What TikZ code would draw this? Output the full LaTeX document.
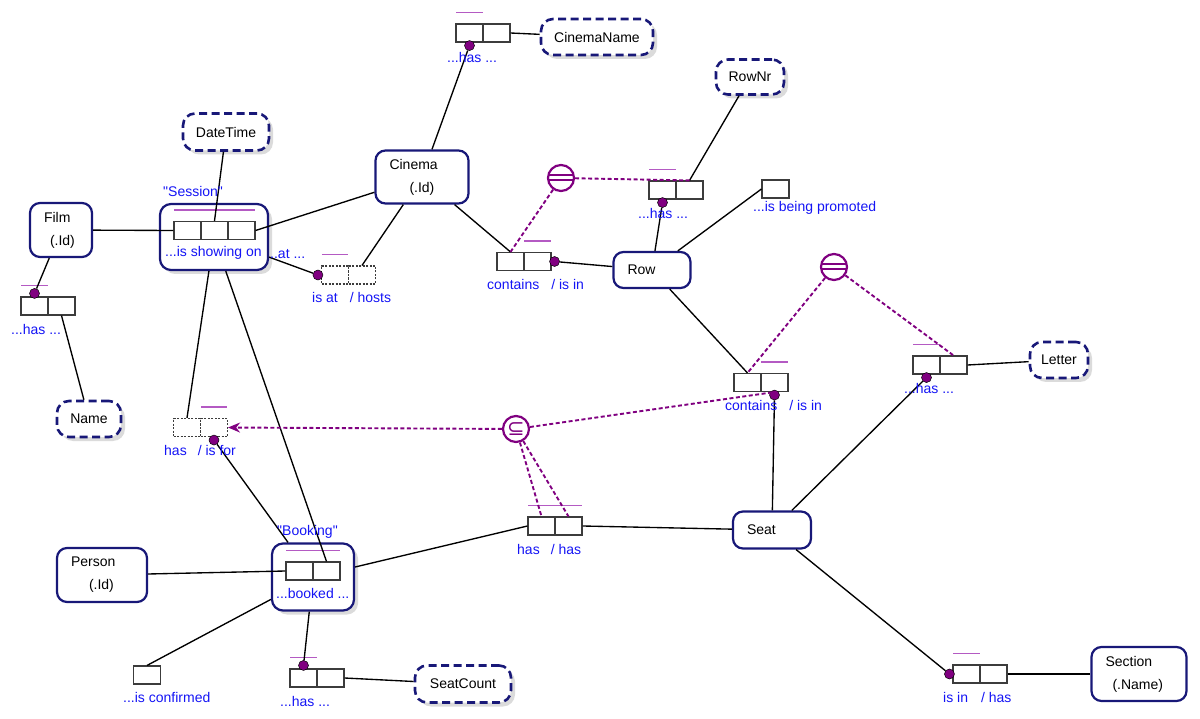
\documentclass[tikz,border=0pt]{standalone}
\usepackage{fontspec}
\setmainfont{Liberation Sans}
\newfontfamily\symfont{DejaVu Sans}
\usepackage{xcolor}
\definecolor{ormnavy}{RGB}{24,24,120}
\definecolor{ormpurple}{RGB}{128,0,128}
\definecolor{ormlilac}{RGB}{180,90,195}
\definecolor{ormblue}{RGB}{20,20,245}
\definecolor{rolegray}{RGB}{60,60,60}
\usepackage{tikz}
\usetikzlibrary{arrows.meta, positioning, calc, shadows}

\begin{document}
\begin{tikzpicture}[x=1pt, y=-1pt, >=Stealth,
  font=\fontsize{14}{16}\selectfont,
  etype/.style={
    rectangle, rounded corners=10pt,
    draw=ormnavy, line width=2.2pt, fill=white,
    align=left, inner xsep=14pt, inner ysep=0pt,
  },
  vtype/.style={
    rectangle, rounded corners=12pt,
    draw=ormnavy, line width=2.6pt, dash pattern=on 8pt off 4.5pt, fill=white,
    inner sep=0pt,
    drop shadow={shadow xshift=4pt, shadow yshift=-4pt, fill=black!14, opacity=1},
  },
  otype/.style={
    rectangle, rounded corners=11pt,
    draw=ormnavy, line width=2.2pt, fill=white, inner sep=0pt,
    drop shadow={shadow xshift=4pt, shadow yshift=-4pt, fill=black!14, opacity=1},
  },
  role/.style={
    rectangle, draw=rolegray, line width=1.1pt, fill=white,
    minimum width=27pt, minimum height=18pt, inner sep=0pt,
  },
  drole/.style={role, dash pattern=on 2pt off 1.5pt},
  mand/.style={
    circle, fill=ormpurple, draw=black, line width=0.5pt,
    minimum size=10pt, inner sep=0pt,
  },
  ubar/.style={draw=ormlilac, line width=1.3pt},
  link/.style={draw=black, line width=1.35pt},
  clink/.style={draw=ormpurple, line width=1.9pt, dash pattern=on 4pt off 2.5pt},
  ccirc/.style={
    circle, draw=ormpurple, line width=2.2pt, fill=white,
    minimum size=26pt, inner sep=0pt, text=ormpurple,
  },
  lbl/.style={anchor=west, text=ormblue, inner sep=0pt},
]
\useasboundingbox (0,0) rectangle (1200,719);

% --- Objectified fact types ---
\node[otype, minimum width=108pt, minimum height=66pt] (ses) at (214,237) {};
\node[otype, minimum width=82pt, minimum height=67pt] (bkg) at (313,577) {};

% --- Entity types ---
\node[etype, text width=34pt, minimum height=54pt] (film) at (61,230) {Film\\[7pt]\hspace*{6pt}(.Id)};
\node[etype, text width=65pt, minimum height=53pt] (cin) at (422,177) {Cinema\\[7pt]\hspace*{20pt}(.Id)};
\node[etype, text width=49pt, minimum height=36pt] (row) at (652,270) {Row};
\node[etype, text width=50pt, minimum height=37pt] (seat) at (772,530) {Seat};
\node[etype, text width=62pt, minimum height=54pt] (per) at (102,575) {Person\\[7pt]\hspace*{18pt}(.Id)};
\node[etype, text width=67pt, minimum height=54pt] (sec) at (1139,674) {Section\\[7pt]\hspace*{7pt}(.Name)};

% --- Value types ---
\node[vtype, minimum width=112pt, minimum height=36pt] (cname) at (597,37) {CinemaName};
\node[vtype, minimum width=86pt, minimum height=37pt] (dt) at (226,132) {DateTime};
\node[vtype, minimum width=68pt, minimum height=35pt] (rownr) at (750,77) {RowNr};
\node[vtype, minimum width=64pt, minimum height=36pt] (nm) at (89,419) {Name};
\node[vtype, minimum width=58pt, minimum height=36pt] (let) at (1059,360) {Letter};
\node[vtype, minimum width=96pt, minimum height=37pt] (scnt) at (463,684) {SeatCount};

% --- Role boxes ---
\node[role] (cn1) at (469.5,33) {};
\node[role] (cn2) at (496.5,33) {};
\node[role] (ss1) at (187.5,230.5) {};
\node[role] (ss2) at (214.5,230.5) {};
\node[role] (ss3) at (241.5,230.5) {};
\node[drole] (at1) at (335,275) {};
\node[drole] (at2) at (362,275) {};
\node[role] (fn1) at (34.5,306) {};
\node[role] (fn2) at (61.5,306) {};
\node[drole] (hf1) at (187,427.5) {};
\node[drole] (hf2) at (214,427.5) {};
\node[role] (rc1) at (510.5,261.5) {};
\node[role] (rc2) at (537.5,261.5) {};
\node[role] (rn1) at (662.5,190) {};
\node[role] (rn2) at (689.5,190) {};
\node[role] (pr) at (775.5,189) {};
\node[role] (sc1) at (747.5,382.5) {};
\node[role] (sc2) at (774.5,382.5) {};
\node[role] (lt1) at (926.5,365) {};
\node[role] (lt2) at (953.5,365) {};
\node[role] (bk1) at (299.5,571) {};
\node[role] (bk2) at (326.5,571) {};
\node[role] (bs1) at (541.5,526) {};
\node[role] (bs2) at (568.5,526) {};
\node[role] (cf) at (147,675) {};
\node[role] (sk1) at (303.5,678) {};
\node[role] (sk2) at (330.5,678) {};
\node[role] (sx1) at (966.5,674) {};
\node[role] (sx2) at (993.5,674) {};

% --- Uniqueness bars ---
\draw[ubar] ($(cn1.north west)+(1,-11)$) -- ($(cn1.north east)+(-1,-11)$);
\draw[ubar] ($(ss1.north west)+(1,-11)$) -- ($(ss3.north east)+(-1,-11)$);
\draw[ubar] ($(at1.north west)+(1,-11)$) -- ($(at1.north east)+(-1,-11)$);
\draw[ubar] ($(fn1.north west)+(1,-11)$) -- ($(fn1.north east)+(-1,-11)$);
\draw[ubar] ($(hf2.north west)+(1,-11)$) -- ($(hf2.north east)+(-1,-11)$);
\draw[ubar] ($(rc2.north west)+(1,-11)$) -- ($(rc2.north east)+(-1,-11)$);
\draw[ubar] ($(rn1.north west)+(1,-11)$) -- ($(rn1.north east)+(-1,-11)$);
\draw[ubar] ($(sc2.north west)+(1,-11)$) -- ($(sc2.north east)+(-1,-11)$);
\draw[ubar] ($(lt1.north west)+(1,-11)$) -- ($(lt1.north east)+(-1,-11)$);
\draw[ubar] ($(bk1.north west)+(1,-11)$) -- ($(bk2.north east)+(-1,-11)$);
\draw[ubar] ($(bs1.north west)+(1,-11)$) -- ($(bs2.north east)+(-1,-11)$);
\draw[ubar] ($(sk1.north west)+(1,-11)$) -- ($(sk1.north east)+(-1,-11)$);
\draw[ubar] ($(sx1.north west)+(1,-11)$) -- ($(sx1.north east)+(-1,-11)$);

% --- Mandatory dots ---
\node[mand] (mcn) at ([yshift=-3pt]cn1.south) {};
\node[mand] (mat) at ([xshift=-3pt]at1.west) {};
\node[mand] (mfn) at ([yshift=3pt]fn1.north) {};
\node[mand] (mhf) at ([yshift=-3pt]hf2.south) {};
\node[mand] (mrc) at ([xshift=3pt]rc2.east) {};
\node[mand] (mrn) at ([yshift=-3pt]rn1.south) {};
\node[mand] (msc) at ([yshift=-3pt]sc2.south) {};
\node[mand] (mlt) at ([yshift=-3pt]lt1.south) {};
\node[mand] (msk) at ([yshift=3pt]sk1.north) {};
\node[mand] (msx) at ([xshift=-3pt]sx1.west) {};

% --- Connectors ---
\draw[link] (cin) -- (mcn);
\draw[link] (cn2.east) -- (cname);
\draw[link] (dt) -- (ss2.north);
\draw[link] (film) -- (ss1.west);
\draw[link] (ss3.east) -- (cin);
\draw[link] (ses) -- (mat);
\draw[link] (cin) -- (at2.north);
\draw[link] (cin) -- (rc1.north);
\draw[link] (row) -- (mrc);
\draw[link] (row) -- (mrn);
\draw[link] (rownr) -- (rn2.north);
\draw[link] (row) -- (pr.west);
\draw[link] (row) -- (sc1.north);
\draw[link] (seat) -- (msc);
\draw[link] (seat) -- (mlt);
\draw[link] (lt2.east) -- (let);
\draw[link] (seat) -- (msx);
\draw[link] (sx2.east) -- (sec);
\draw[link] (film) -- (mfn);
\draw[link] (fn2.south) -- (nm);
\draw[link] (ses) -- (hf1.north);
\draw[link] (ses) -- (bk2.north);
\draw[link] (bkg) -- (mhf);
\draw[link] (per) -- (bk1.west);
\draw[link] (bkg) -- (bs1.west);
\draw[link] (bs2.east) -- (seat);
\draw[link] (bkg) -- (cf.north);
\draw[link] (bkg) -- (msk);
\draw[link] (sk2.east) -- (scnt);

% --- Constraints ---
\node[ccirc] (eq1) at (561,178) {};
\node[ccirc] (eq2) at (834,267) {};
\node[ccirc, font=\symfont\fontsize{21}{21}\selectfont] (sub) at (516,429) {⊆};
\draw[ormpurple, line width=2pt] ($(eq1)+(-12.5,-2.5)$) -- ($(eq1)+(12.5,-2.5)$);
\draw[ormpurple, line width=2pt] ($(eq1)+(-12.5,2.5)$) -- ($(eq1)+(12.5,2.5)$);
\draw[ormpurple, line width=2pt] ($(eq2)+(-12.5,-2.5)$) -- ($(eq2)+(12.5,-2.5)$);
\draw[ormpurple, line width=2pt] ($(eq2)+(-12.5,2.5)$) -- ($(eq2)+(12.5,2.5)$);
\draw[clink] (eq1) -- (rc1.north);
\draw[clink] (eq1) -- (rn2.north);
\draw[clink] (eq2) -- (sc1.north);
\draw[clink] (eq2) -- (lt2.north);
\draw[clink] (sub) -- (bs1.north);
\draw[clink] (sub) -- (bs2.north);
\draw[clink] (sub) -- (sc2.south);
\draw[clink, -{Stealth[length=12pt, width=10pt]}] (sub) -- (hf2.east);

% --- Readings ---
\node[lbl] (lcn) at (447,57) {...has ...};
\node[lbl] (lses) at (163,191) {\textquotedbl Session\textquotedbl};
\node[lbl] (lshow) at (165,253) {...is showing on};
\node[lbl] (latx) at (270,254) {..at ...};
\node[lbl] (lat) at (312,297) {is at\hspace{12pt}/ hosts};
\node[lbl] (lfn) at (11,329) {...has ...};
\node[lbl] (lhf) at (164,450) {has\hspace{11pt}/ is for};
\node[lbl] (lrc) at (487,284) {contains\hspace{12pt}/ is in};
\node[lbl] (lrn) at (638,213) {...has ...};
\node[lbl] (lpr) at (753,208) {...is being promoted};
\node[lbl] (lsc) at (725,405) {contains\hspace{12pt}/ is in};
\node[lbl] (llt) at (904,388) {...has ...};
\node[lbl] (lbkg) at (277,532) {\textquotedbl Booking\textquotedbl};
\node[lbl] (lbook) at (276,593) {...booked ...};
\node[lbl] (lbs) at (517,549) {has\hspace{11pt}/ has};
\node[lbl] (lcf) at (123,697) {...is confirmed};
\node[lbl] (lsk) at (280,701) {...has ...};
\node[lbl] (lsx) at (943,697) {is in\hspace{13pt}/ has};

\end{tikzpicture}
\end{document}
